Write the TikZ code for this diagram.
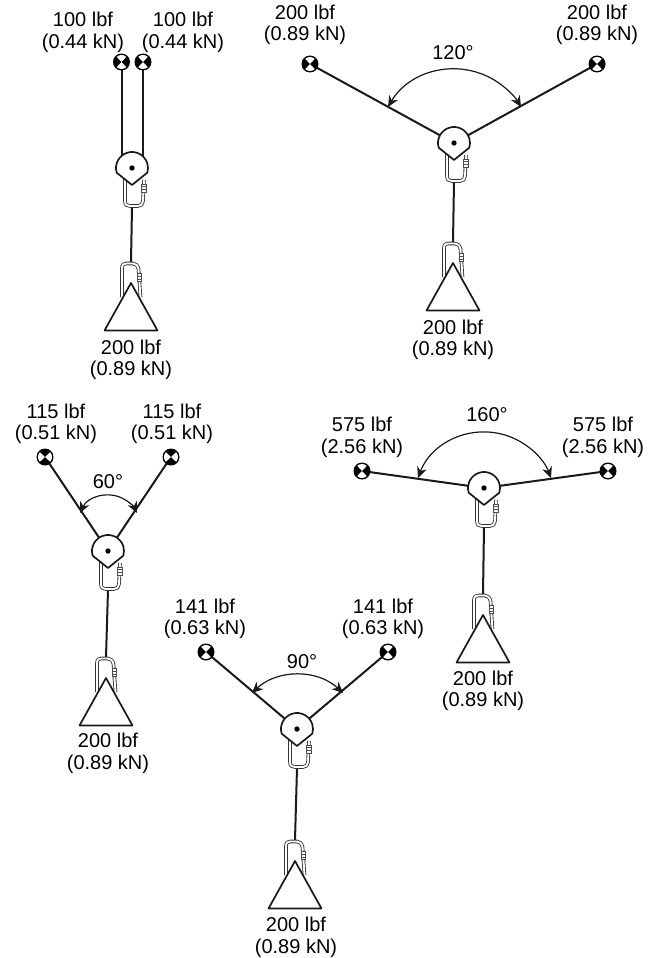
\documentclass[tikz,border=0pt]{standalone}
\usepackage{fontspec}
\setmainfont{Liberation Sans}
\usetikzlibrary{arrows.meta}
\tikzset{
  x=1pt,y=1pt,
  rope/.style={line width=2pt,draw=black!90,line cap=butt},
  body/.style={line width=1.7pt,draw=black!90,fill=white,line join=round},
  clipouter/.style={line width=3.6pt,draw=black!80,line join=round},
  clipinner/.style={line width=1.9pt,draw=white,line join=round},
  anchorball/.style={circle,fill=black,minimum size=17pt,inner sep=0pt},
  sweep/.style={line width=1.2pt,draw=black!90,{Stealth[length=11pt,width=10pt,inset=3.5pt]}-{Stealth[length=11pt,width=10pt,inset=3.5pt]}},
  forcelabel/.style={align=center,font=\fontsize{20}{21.5}\selectfont,inner sep=0pt},
  anglelabel/.style={font=\fontsize{20}{21.5}\selectfont,inner sep=0pt},
}
\newcommand{\dxl}{0}
\newcommand{\dxr}{0}
% #1 name, #2 #3 centre of the anchor, #4 wedge rotation
\newcommand{\anchorpt}[4]{%
  \node[anchorball] (#1) at (#2,-#3) {};
  \fill[white] (#2,-#3) -- ++(#4+90-43:7) arc[start angle=#4+90-43,end angle=#4+90+43,radius=7] -- cycle;
  \fill[white] (#2,-#3) -- ++(#4-90-43:7) arc[start angle=#4-90-43,end angle=#4-90+43,radius=7] -- cycle;
}
% #1 name, #2 #3 pulley centre, #4 #5 anchor xs, #6 anchor y, #7 #8 apex of weight, #9 wedge rotation
\newcommand{\rig}[9]{%
  \coordinate (#1p) at (#2,-#3);
  \coordinate (#1tl) at (#2+\dxl,-#3);
  \coordinate (#1tr) at (#2+\dxr,-#3);
  \coordinate (#1apex) at (#7,-#8);
  \coordinate (#1cb) at (#2,-#3-39);
  \coordinate (#1ct) at (#7,-#8+21);
  % rope from upper clip to lower clip
  \draw[rope] (#1cb) -- (#1ct);
  % upper clip
  \begin{scope}[shift={(#1p)}]
    \foreach \st in {clipouter,clipinner}{
      \draw[\st] (-7,-8) -- (-7,-33) .. controls (-7,-37) and (-5,-38) .. (-2,-38) -- (6,-38)
        .. controls (9,-38) and (11,-36) .. (11,-33) -- (12,-12);
    }
    \fill[white,draw=black!70,line width=.6pt] (9.5,-16) rectangle (13.9,-24);
    \draw[black!70,line width=.5pt] (9.5,-18.7) -- (13.9,-18.7) (9.5,-21.3) -- (13.9,-21.3);
  \end{scope}
  % lower clip
  \begin{scope}[shift={(#1apex)}]
    \foreach \st in {clipouter,clipinner}{
      \draw[\st] (-9,-14) -- (-9,15) .. controls (-9,18.5) and (-7,19.5) .. (-5,19.5) -- (2,19.5)
        .. controls (5,19.5) and (6.5,17.5) .. (7.5,14) -- (9.5,-14);
    }
    \fill[white,draw=black!70,line width=.6pt] (6.2,1.5) rectangle (10.6,9.5);
    \draw[black!70,line width=.5pt] (6.2,4.2) -- (10.6,4.2) (6.2,6.8) -- (10.6,6.8);
    \draw[body] (0,0) -- (26.5,-47.5) -- (-26.5,-47.5) -- cycle;
  \end{scope}
  % anchors and ropes
  \coordinate (#1al) at (#4,-#6);
  \coordinate (#1ar) at (#5,-#6);
  \draw[rope] (#1al) -- (#1tl);
  \draw[rope] (#1ar) -- (#1tr);
  \anchorpt{#1la}{#4}{#6}{#9}
  \anchorpt{#1ra}{#5}{#6}{#9}
  % pulley
  \begin{scope}[shift={(#1p)}]
    \draw[body] (197:16) arc[start angle=197,end angle=-17,radius=16] -- (0,-17) -- cycle;
    \fill[black] (0,0) circle[radius=2.7];
  \end{scope}
}
% #1 name, #2 xL, #3 xR, #4 y of ends, #5 y of top
\newcommand{\sweeparc}[5]{%
  \pgfmathsetmacro{\sw}{(#3-#2)/2}
  \pgfmathsetmacro{\sh}{#4-#5}
  \pgfmathsetmacro{\sR}{(\sw*\sw+\sh*\sh)/(2*\sh)}
  \pgfmathsetmacro{\sa}{asin(\sw/\sR)}
  \coordinate (#1) at (#2,-#4);
  \draw[sweep] (#1) arc[start angle=90+\sa,end angle=90-\sa,radius=\sR];
}
\begin{document}
\begin{tikzpicture}
\useasboundingbox (0,0) rectangle (653,-958);
% --- top left
\renewcommand{\dxl}{-10.5}\renewcommand{\dxr}{11}
\rig{a}{132}{168}{121.5}{143}{62}{131}{283}{0}
\renewcommand{\dxl}{0}\renewcommand{\dxr}{0}
\node[forcelabel] (a1) at (83,-32.5) {100 lbf\\(0.44 kN)};
\node[forcelabel] (a2) at (183,-32.5) {100 lbf\\(0.44 kN)};
\node[forcelabel] (a3) at (131,-360) {200 lbf\\(0.89 kN)};
% --- top right
\rig{b}{454}{143}{310}{597}{64}{453}{263}{0}
\sweeparc{bs}{388}{521}{107}{69}
\node[anglelabel] (b0) at (453,-53) {120°};
\node[forcelabel] (b1) at (305,-25) {200 lbf\\(0.89 kN)};
\node[forcelabel] (b2) at (597,-25) {200 lbf\\(0.89 kN)};
\node[forcelabel] (b3) at (453,-340) {200 lbf\\(0.89 kN)};
% --- left
\rig{c}{108}{551}{45}{171}{457}{106}{678}{90}
\sweeparc{cs}{80}{137}{513}{495}
\node[anglelabel] (c0) at (108,-482) {60°};
\node[forcelabel] (c1) at (56,-424) {115 lbf\\(0.51 kN)};
\node[forcelabel] (c2) at (172,-424) {115 lbf\\(0.51 kN)};
\node[forcelabel] (c3) at (108,-753.5) {200 lbf\\(0.89 kN)};
% --- bottom
\rig{d}{297}{729}{206}{388}{652}{295}{861}{0}
\sweeparc{ds}{252}{343}{693}{675}
\node[anglelabel] (d0) at (302,-662) {90°};
\node[forcelabel] (d1) at (205,-619) {141 lbf\\(0.63 kN)};
\node[forcelabel] (d2) at (383,-619) {141 lbf\\(0.63 kN)};
\node[forcelabel] (d3) at (296,-937.5) {200 lbf\\(0.89 kN)};
% --- right
\rig{e}{484}{488}{362}{608}{471}{483}{615}{0}
\sweeparc{es}{418}{551}{478}{432}
\node[anglelabel] (e0) at (487,-415) {160°};
\node[forcelabel] (e1) at (362,-437.5) {575 lbf\\(2.56 kN)};
\node[forcelabel] (e2) at (603,-437.5) {575 lbf\\(2.56 kN)};
\node[forcelabel] (e3) at (483,-691) {200 lbf\\(0.89 kN)};
\end{tikzpicture}
\end{document}
